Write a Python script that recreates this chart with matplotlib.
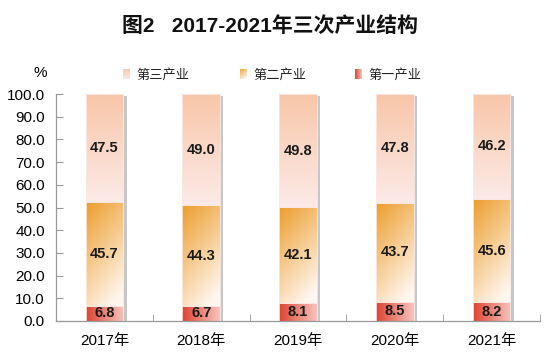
import numpy as np
import matplotlib
matplotlib.use("Agg")
import matplotlib.pyplot as plt
from matplotlib.colors import to_rgb

years = ["2017年", "2018年", "2019年", "2020年", "2021年"]
primary = [6.8, 6.7, 8.1, 8.5, 8.2]
secondary = [45.7, 44.3, 42.1, 43.7, 45.6]
tertiary = [47.5, 49.0, 49.8, 47.8, 46.2]
y_ticks = [0, 10, 20, 30, 40, 50, 60, 70, 80, 90, 100]

FONT = ["Liberation Sans", "Noto Sans CJK SC", "DejaVu Sans"]
plt.rcParams["font.family"] = FONT


def gradient(c1, c2, mode, n=64):
    a, b = np.array(to_rgb(c1)), np.array(to_rgb(c2))
    yy, xx = np.mgrid[0:1:n * 1j, 0:1:n * 1j]
    if mode == "v":        # c1 at top, c2 at bottom
        t = yy
    elif mode == "h":      # c1 left, c2 right
        t = xx
    else:                  # c1 top-left, c2 bottom-right
        t = np.clip(0.35 * xx + 0.75 * yy, 0, 1)
    return a[None, None, :] * (1 - t[..., None]) + b[None, None, :] * t[..., None]


styles = {
    "tertiary": ("#F8C6A8", "#FCEAE7", "v"),
    "secondary": ("#EC9E2C", "#FFF6F0", "d"),
    "primary": ("#DE4433", "#F6C4BE", "h"),
}

fig = plt.figure(figsize=(5.5, 3.62), dpi=100)
ax = fig.add_axes([56 / 550, 1 - 321 / 362, 484 / 550, 227 / 362])

x = np.arange(len(years))
w = 0.39
bottom1 = np.zeros(len(years))
bottom2 = np.array(primary)
bottom3 = bottom2 + np.array(secondary)

# shadow
ax.bar(x + 0.035, 100, width=w, bottom=-0.8, color="#9a9a9a", alpha=0.55, zorder=1)

layers = [("primary", primary, bottom1), ("secondary", secondary, bottom2),
          ("tertiary", tertiary, bottom3)]
for name, vals, bot in layers:
    c1, c2, mode = styles[name]
    bars = ax.bar(x, vals, width=w, bottom=bot, color="none",
                  edgecolor="#fbe9e4", linewidth=0.6, zorder=3)
    img = gradient(c1, c2, mode)
    for b, v, b0 in zip(bars, vals, bot):
        x0 = b.get_x()
        im = ax.imshow(img, extent=[x0, x0 + w, b0, b0 + v], aspect="auto",
                       zorder=2, interpolation="bilinear")
        im.set_clip_path(b)
        ax.text(x0 + w / 2, b0 + v / 2, f"{v:.1f}", ha="center", va="center",
                fontsize=10.5, fontweight="bold", color="#1a1a1a", zorder=4)

ax.set_xlim(-0.5, len(years) - 0.5)
ax.set_ylim(0, 100)
ax.set_yticks(y_ticks)
ax.set_yticklabels([f"{t:.1f}" for t in y_ticks], fontsize=11)
ax.set_xticks(x)
ax.set_xticklabels(years, fontsize=11)
ax.set_xticks(np.arange(len(years)) + 0.5, minor=True)
ax.tick_params(axis="x", which="major", length=0, pad=9)
ax.tick_params(axis="x", which="minor", direction="in", length=5, color="#999999")
ax.tick_params(axis="y", direction="in", length=5, color="#999999", pad=8)
for s in ["top", "right"]:
    ax.spines[s].set_visible(False)
for s in ["left", "bottom"]:
    ax.spines[s].set_color("#999999")
    ax.spines[s].set_linewidth(0.9)

fig.text(0.49, 1 - 26 / 362, "图2   2017-2021年三次产业结构", ha="center", va="center",
         fontsize=15, fontweight="bold", color="#111111")
fig.text(40 / 550, 1 - 73 / 362, "%", ha="center", va="center", fontsize=11)

legend_items = [("第三产业", "tertiary", 123), ("第二产业", "secondary", 240),
                ("第一产业", "primary", 355)]
for label, key, px in legend_items:
    c1, c2, mode = styles[key]
    lax = fig.add_axes([px / 550, 1 - 79 / 362, 7 / 550, 10 / 362])
    lax.imshow(gradient(c1, c2, mode), aspect="auto", extent=[0, 1, 0, 1])
    lax.axis("off")
    fig.text((px + 13) / 550, 1 - 75 / 362, label, ha="left", va="center",
             fontsize=9.5, color="#222222")

fig.savefig("out.png", dpi=100)
